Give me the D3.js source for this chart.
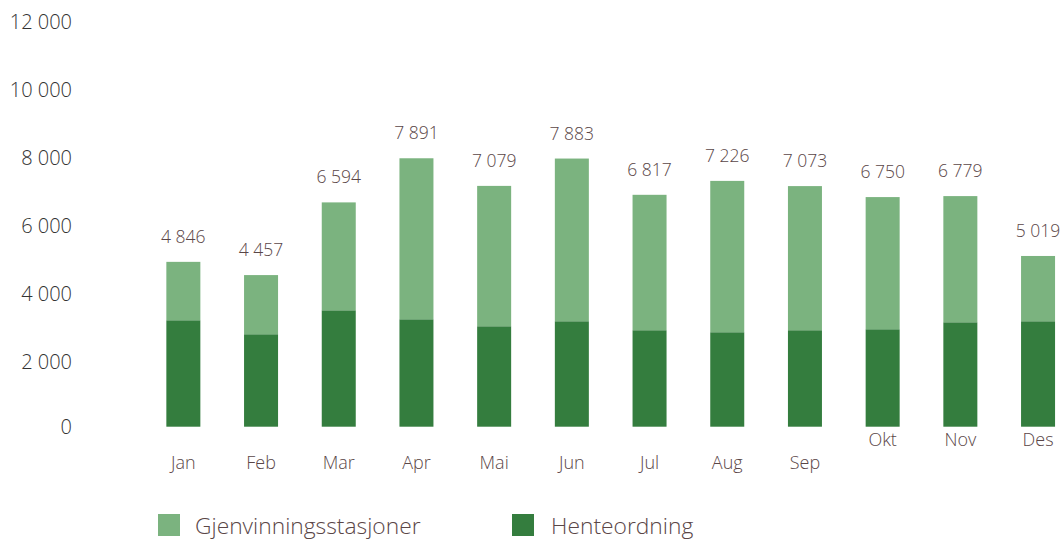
<!DOCTYPE html>
<html>
<head>
<meta charset="utf-8">
<script src="https://cdn.jsdelivr.net/npm/d3@7"></script>
<style>
  body { margin: 0; background: #fff; }
  text { font-family: "Open Sans", sans-serif; font-weight: 300; }
</style>
</head>
<body>
<div id="chart"></div>
<script>
// data
var months = ["Jan", "Feb", "Mar", "Apr", "Mai", "Jun", "Jul", "Aug", "Sep", "Okt", "Nov", "Des"];
var totals = [4846, 4457, 6594, 7891, 7079, 7883, 6817, 7226, 7073, 6750, 6779, 5019];
var henteordning = [3129, 2718, 3422, 3158, 2953, 3100, 2836, 2777, 2836, 2865, 3070, 3100];
var gjenvinning = [1717, 1739, 3172, 4733, 4126, 4783, 3981, 4449, 4237, 3885, 3709, 1919];
var yTicks = [0, 2000, 4000, 6000, 8000, 10000, 12000];
var seriesNames = ["Gjenvinningsstasjoner", "Henteordning"];

var width = 1061, height = 541;
var colLight = "#7bb37f", colDark = "#347d3e", textBrown = "#5a4647";

var svg = d3.select("#chart").append("svg")
    .attr("width", width)
    .attr("height", height);

var x = d3.scaleBand()
    .domain(months)
    .range([144.5, 1076.9])
    .paddingInner(0.5624)
    .paddingOuter(0.2812);

var y = d3.scaleLinear()
    .domain([0, 12000])
    .range([426.7, 18.5]);

// number format with space as thousands separator
var fmt = function (v) {
    return d3.format(",")(v).replace(/,/g, " ");
};

// y axis labels (no lines)
svg.append("g")
    .selectAll("text")
    .data(yTicks)
    .enter().append("text")
    .attr("x", 72)
    .attr("y", function (d) { return y(d) + (d === 0 ? 0 : 3); })
    .attr("dy", "0.35em")
    .attr("text-anchor", "end")
    .style("font-size", "20px")
    .style("fill", "#333")
    .text(fmt);

var rows = months.map(function (m, i) {
    return { month: m, hente: henteordning[i], gjen: gjenvinning[i], total: totals[i], i: i };
});

// dark bottom part
svg.append("g").selectAll("rect")
    .data(rows)
    .enter().append("rect")
    .attr("x", function (d) { return x(d.month); })
    .attr("width", x.bandwidth())
    .attr("y", function (d) { return y(d.hente); })
    .attr("height", function (d) { return y(0) - y(d.hente); })
    .style("fill", colDark);

// light top part
svg.append("g").selectAll("rect")
    .data(rows)
    .enter().append("rect")
    .attr("x", function (d) { return x(d.month); })
    .attr("width", x.bandwidth())
    .attr("y", function (d) { return y(d.hente + d.gjen); })
    .attr("height", function (d) { return y(d.hente) - y(d.hente + d.gjen); })
    .style("fill", colLight);

// total labels
svg.append("g").selectAll("text")
    .data(rows)
    .enter().append("text")
    .attr("x", function (d) { return x(d.month) + x.bandwidth() / 2; })
    .attr("y", function (d) { return y(d.hente + d.gjen) - 19; })
    .attr("text-anchor", "middle")
    .style("font-size", "17.5px")
    .style("fill", textBrown)
    .text(function (d) { return fmt(d.total); });

// month labels (last three sit higher in the original)
svg.append("g").selectAll("text")
    .data(rows)
    .enter().append("text")
    .attr("x", function (d) { return x(d.month) + x.bandwidth() / 2; })
    .attr("y", function (d) { return d.i >= 9 ? 446 : 469; })
    .attr("text-anchor", "middle")
    .style("font-size", "18px")
    .style("fill", textBrown)
    .text(function (d) { return d.month; });

// legend
var legend = svg.append("g").selectAll("g")
    .data(seriesNames)
    .enter().append("g")
    .attr("transform", function (d, i) {
        return "translate(" + (i === 0 ? 158 : 512) + ",514)";
    });

legend.append("rect")
    .attr("width", 22)
    .attr("height", 22)
    .style("fill", function (d, i) { return i === 0 ? colLight : colDark; });

legend.append("text")
    .attr("x", function (d, i) { return i === 0 ? 37 : 39; })
    .attr("y", 12)
    .attr("dy", "0.35em")
    .style("font-size", "22.8px")
    .style("fill", textBrown)
    .text(function (d) { return d; });
</script>
</body>
</html>
